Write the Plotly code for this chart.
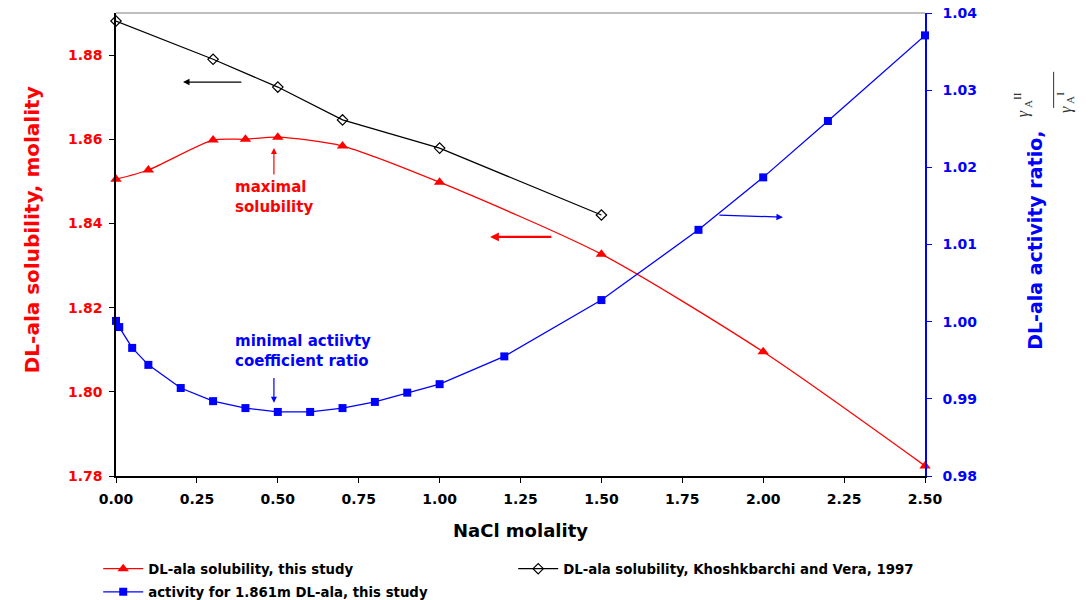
import plotly.graph_objects as go

# NaCl molality and measured DL-alanine solubility (this study)
nacl_sol = [0.0, 0.1, 0.3, 0.4, 0.5, 0.7, 1.0, 1.5, 2.0, 2.5]
sol_this = [1.8505, 1.8527, 1.8598, 1.8600, 1.8605, 1.8584, 1.8498, 1.8327, 1.8095, 1.7824]

# Literature solubility (Khoshkbarchi and Vera, 1997)
nacl_lit = [0.0, 0.3, 0.5, 0.7, 1.0, 1.5]
sol_lit = [1.8881, 1.8790, 1.8724, 1.8646, 1.8579, 1.8420]

# Activity coefficient ratio for 1.861 m DL-alanine
nacl_act = [0.0, 0.01, 0.05, 0.1, 0.2, 0.3, 0.4, 0.5, 0.6, 0.7, 0.8, 0.9, 1.0, 1.2, 1.5, 1.8, 2.0, 2.2, 2.5]
act_ratio = [1.0001, 0.9993, 0.9966, 0.9944, 0.9914, 0.9897, 0.9888, 0.9883, 0.9883, 0.9888,
             0.9896, 0.9908, 0.9919, 0.9955, 1.0028, 1.0119, 1.0187, 1.0260, 1.0371]

x_ticks = [0.0, 0.25, 0.5, 0.75, 1.0, 1.25, 1.5, 1.75, 2.0, 2.25, 2.5]
y_left_ticks = [1.78, 1.80, 1.82, 1.84, 1.86, 1.88]
y_right_ticks = [0.98, 0.99, 1.00, 1.01, 1.02, 1.03, 1.04]

RED = "#ff0000"
BLUE = "#0000ff"
FONT = "DejaVu Sans, Arial, sans-serif"
SERIF = "Liberation Serif, Times New Roman, serif"

fig = go.Figure()

fig.add_trace(go.Scatter(
    x=nacl_sol, y=sol_this, name="DL-ala solubility, this study",
    mode="lines+markers", line=dict(color=RED, width=1.3, shape="spline", smoothing=0.7),
    marker=dict(symbol="triangle-up", size=10, color=RED), cliponaxis=False,
    legend="legend",
))
fig.add_trace(go.Scatter(
    x=nacl_lit, y=sol_lit, name="DL-ala solubility, Khoshkbarchi and Vera, 1997",
    mode="lines+markers", line=dict(color="black", width=1.2),
    marker=dict(symbol="diamond-open", size=8, color="black", line=dict(width=1.2)),
    cliponaxis=False, legend="legend",
))
fig.add_trace(go.Scatter(
    x=nacl_act, y=act_ratio, name="activity for 1.861m DL-ala, this study",
    mode="lines+markers", line=dict(color=BLUE, width=1.3),
    marker=dict(symbol="square", size=8, color=BLUE), yaxis="y2", cliponaxis=False,
    legend="legend2",
))

tick_common = dict(showgrid=False, zeroline=False, showline=True, linewidth=1.5,
                   ticks="outside", ticklen=5, automargin=False)

legend_common = dict(
    orientation="h", x=-0.022, xanchor="left", yanchor="top",
    entrywidth=360, entrywidthmode="pixels", tracegroupgap=0,
    font=dict(family=FONT, size=13.3, color="black", weight="bold"),
    itemwidth=40, bgcolor="rgba(0,0,0,0)",
)

fig.update_layout(
    width=1090, height=600,
    margin=dict(l=116, r=165, t=13, b=124, autoexpand=False),
    plot_bgcolor="white", paper_bgcolor="white",
    font=dict(family=FONT, color="black"),
    showlegend=True,
    legend=dict(y=-0.1675, **legend_common),
    legend2=dict(y=-0.2175, **legend_common),
    xaxis=dict(
        range=[0, 2.5], tickvals=x_ticks, ticktext=[f"{v:.2f}" for v in x_ticks],
        linecolor="black", tickcolor="black", ticklabelstandoff=4,
        tickfont=dict(family=FONT, size=14, color="black", weight="bold"),
        **tick_common,
    ),
    yaxis=dict(
        range=[1.78, 1.89], tickvals=y_left_ticks, ticktext=[f"{v:.2f}" for v in y_left_ticks],
        linecolor="black", tickcolor="black", ticklabelstandoff=4,
        tickfont=dict(family=FONT, size=14, color=RED, weight="bold"),
        **tick_common,
    ),
    yaxis2=dict(
        range=[0.98, 1.04], tickvals=y_right_ticks, ticktext=[f"{v:.2f}" for v in y_right_ticks],
        overlaying="y", side="right",
        linecolor=BLUE, tickcolor=BLUE, ticklabelstandoff=8,
        tickfont=dict(family=FONT, size=14, color=BLUE, weight="bold"),
        **tick_common,
    ),
)

# grey frame line along the top of the plot area
fig.add_shape(type="line", xref="paper", yref="paper", x0=0, x1=1, y0=1, y1=1,
              line=dict(color="#aaaaaa", width=1.5))

# axis titles
fig.add_annotation(xref="paper", yref="paper", x=0.5, y=-0.117, yanchor="middle",
                   text="<b>NaCl molality</b>",
                   showarrow=False, font=dict(family=FONT, size=18, color="black"))
fig.add_annotation(xref="paper", yref="paper", x=-0.121, y=0.531, textangle=-90,
                   text="<b>DL-ala solubility, molality</b>", showarrow=False,
                   font=dict(family=FONT, size=20, color=RED))
fig.add_annotation(xref="paper", yref="paper", x=1.152, y=0.51, textangle=-90,
                   text="<b>DL-ala activity ratio,</b>", showarrow=False,
                   font=dict(family=FONT, size=19, color=BLUE))

# gamma ratio next to the right axis title
fig.add_annotation(xref="paper", yref="paper", x=1.137, y=0.834, textangle=-90,
                   text="<i>γ</i><sub> A</sub><sup>II</sup>", showarrow=False,
                   font=dict(family=SERIF, size=16, color="#333333"))
fig.add_annotation(xref="paper", yref="paper", x=1.19, y=0.834, textangle=-90,
                   text="<i>γ</i><sub> A</sub><sup>I</sup>", showarrow=False,
                   font=dict(family=SERIF, size=16, color="#333333"))
fig.add_shape(type="line", xref="paper", yref="paper", x0=1.159, x1=1.159, y0=0.795, y1=0.873,
              line=dict(color="#333333", width=1))

# text callouts
fig.add_annotation(x=0.3616, y=1.8463, xanchor="left", text="<b>maximal<br>solubility</b>",
                   showarrow=False, align="left", font=dict(family=FONT, size=15, color=RED))
fig.add_annotation(x=0.488, y=1.8579, ax=0.488, ay=1.8513, axref="x", ayref="y",
                   showarrow=True, arrowhead=2, arrowsize=1, arrowwidth=1.2, arrowcolor=RED, text="")
fig.add_annotation(x=0.3616, y=0.9962, yref="y2", xanchor="left",
                   text="<b>minimal actiivty<br>coefficient ratio</b>",
                   showarrow=False, align="left", font=dict(family=FONT, size=15, color=BLUE))
fig.add_annotation(x=0.488, y=0.9895, ax=0.488, ay=0.9929, xref="x", yref="y2", axref="x", ayref="y2",
                   showarrow=True, arrowhead=2, arrowsize=1, arrowwidth=1.2, arrowcolor=BLUE, text="")

# direction arrows pointing to each curve's axis
fig.add_annotation(x=0.207, y=1.8736, ax=0.392, ay=1.8736, axref="x", ayref="y",
                   showarrow=True, arrowhead=2, arrowsize=1, arrowwidth=1.3, arrowcolor="black", text="")
fig.add_annotation(x=1.156, y=1.8368, ax=1.350, ay=1.8368, axref="x", ayref="y",
                   showarrow=True, arrowhead=2, arrowsize=0.8, arrowwidth=2.2, arrowcolor=RED, text="")
fig.add_annotation(x=2.061, y=1.8415, ax=1.860, ay=1.842, axref="x", ayref="y",
                   showarrow=True, arrowhead=2, arrowsize=1, arrowwidth=1.3, arrowcolor=BLUE, text="")

fig.write_html("out.html")
